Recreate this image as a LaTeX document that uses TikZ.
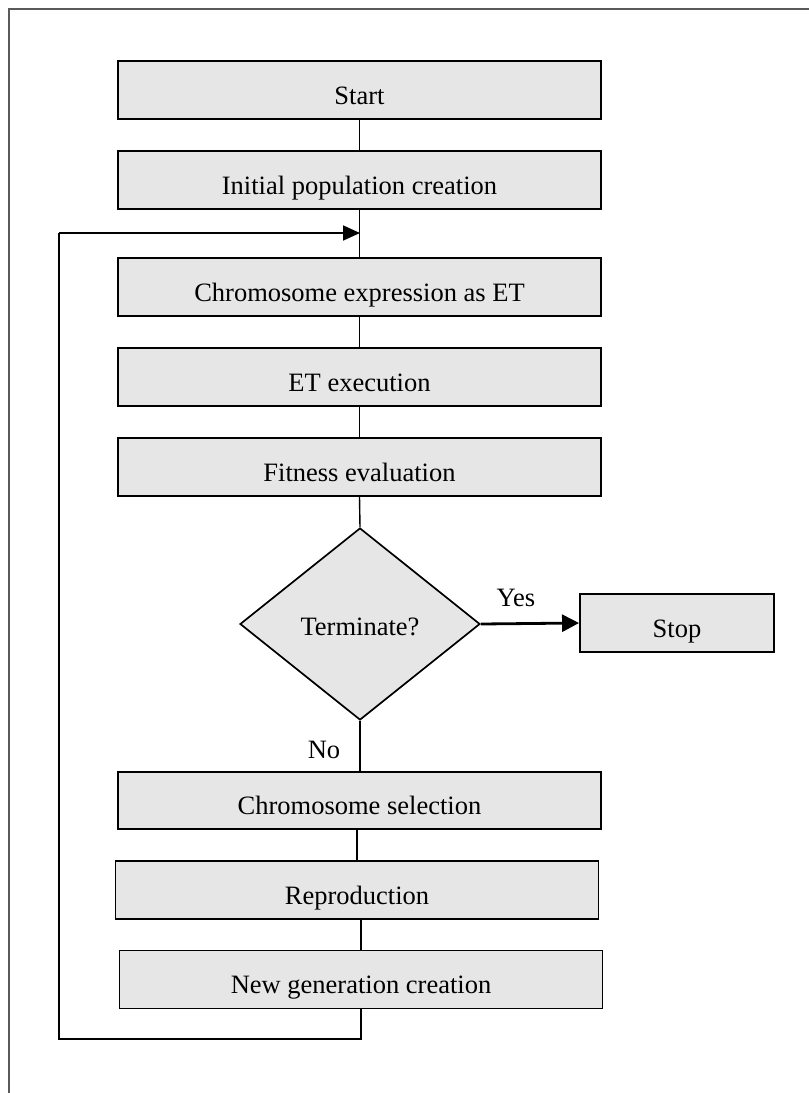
\documentclass[tikz,border=0pt]{standalone}
\usepackage{fontspec}
\setmainfont{Liberation Serif}
\usetikzlibrary{shapes.geometric,arrows.meta}
\definecolor{boxfill}{HTML}{E6E6E6}
\definecolor{framecol}{HTML}{5A5A5A}
\begin{document}
\begin{tikzpicture}[x=1pt,y=-1pt,
  font=\fontsize{26.5}{30}\selectfont,
  procbox/.style={draw=black, line width=1.9pt, fill=boxfill, inner sep=0pt,
    minimum width=483pt, minimum height=58pt, anchor=center,
    text height=28pt, text depth=0pt},
  decbox/.style={draw=black, line width=1.7pt, fill=boxfill, diamond, inner sep=0pt,
    minimum width=240pt, minimum height=192pt, text height=22pt, text depth=0pt},
  conn/.style={draw=black, line width=1.4pt},
  yesarrow/.style={draw=black, line width=2.8pt, -{Triangle[length=17pt,width=17pt]}},
  looparrow/.style={draw=black, line width=1.8pt, -{Triangle[length=17pt,width=15pt]}},
  lbl/.style={inner sep=0pt}
]
\useasboundingbox (0,0) rectangle (809,1093);
\draw[framecol, line width=2pt] (9,1093) -- (9,8.5) -- (809,8.5);

\node[procbox] (start) at (359.5,90) {Start};
\node[procbox] (init) at (359.5,180) {Initial population creation};
\node[procbox] (expr) at (359.5,287) {Chromosome expression as ET};
\node[procbox] (exec) at (359.5,377) {ET execution};
\node[procbox] (fit) at (359.5,467) {Fitness evaluation};
\node[decbox] (term) at (360,624) {Terminate?};
\node[procbox, minimum width=194pt] (stop) at (677,623) {Stop};
\node[procbox, minimum height=57pt] (sel) at (359.5,800.5) {Chromosome selection};
\node[procbox] (repro) at (357,890) {Reproduction};
\node[procbox] (newgen) at (361,979.5) {New generation creation};

\node[lbl] (yes) at (516,598) {Yes};
\node[lbl] (no) at (324,750) {No};

\coordinate (join) at (360,233);
\coordinate (lb) at (59,1039);
\coordinate (lt) at (59,233);

\draw[conn] (start.south) -- (init.north);
\draw[conn] (init.south) -- (expr.north);
\draw[conn] (expr.south) -- (exec.north);
\draw[conn] (exec.south) -- (fit.north);
\draw[conn] (fit.south) -- (term.north);
\draw[yesarrow] (term.east) -- (stop.west);
\draw[conn] (term.south) -- (term.south |- sel.north);
\draw[conn] (repro.north |- sel.south) -- (repro.north);
\draw[conn] (newgen.north |- repro.south) -- (newgen.north);
\draw[conn] (newgen.south) |- (lb) -- (lt);
\draw[looparrow] (lt) -- (join);
\end{tikzpicture}
\end{document}
